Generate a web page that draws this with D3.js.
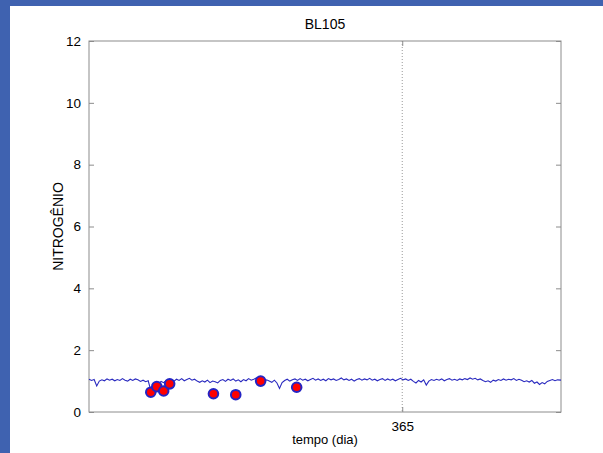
<!DOCTYPE html>
<html><head><meta charset="utf-8">
<script src="https://cdn.jsdelivr.net/npm/d3@7"></script>
<style>html,body{margin:0;padding:0;background:#3f62b0;}svg{display:block;}</style>
</head><body>
<script>
const title = "BL105";
const xLabel = "tempo (dia)";
const yLabel = "NITROGÊNIO";
const xDomain = [0, 550];
const yDomain = [0, 12];
const xTicks = [365];
const yTicks = [0, 2, 4, 6, 8, 10, 12];
const refDay = 365;

const lineDays = [0,3,6,9,12,15,18,21,24,27,30,33,36,39,42,45,48,51,54,57,60,63,66,69,72,75,78,81,84,87,90,93,96,99,102,105,108,111,114,117,120,123,126,129,132,135,138,141,144,147,150,153,156,159,162,165,168,171,174,177,180,183,186,189,192,195,198,201,204,207,210,213,216,219,222,225,228,231,234,237,240,243,246,249,252,255,258,261,264,267,270,273,276,279,282,285,288,291,294,297,300,303,306,309,312,315,318,321,324,327,330,333,336,339,342,345,348,351,354,357,360,363,366,369,372,375,378,381,384,387,390,393,396,399,402,405,408,411,414,417,420,423,426,429,432,435,438,441,444,447,450,453,456,459,462,465,468,471,474,477,480,483,486,489,492,495,498,501,504,507,510,513,516,519,522,525,528,531,534,537,540,543,546,550];
const lineValues = [
1.06,1.02,1.05,0.84,1.00,1.04,1.01,1.07,1.03,1.06,
1.01,1.05,1.02,1.08,1.03,1.00,1.06,1.02,1.07,1.04,
0.99,1.03,0.98,1.01,0.70,0.88,0.97,0.92,0.99,0.95,
1.02,0.97,1.04,1.00,1.06,1.02,1.08,1.01,1.05,1.09,
1.03,1.06,1.00,0.96,1.01,0.97,1.03,0.95,1.00,0.98,
0.94,1.02,1.05,0.99,1.06,1.02,1.07,1.00,1.04,0.98,
1.05,1.01,1.08,1.03,1.06,1.10,1.04,1.01,0.97,1.04,
1.00,0.96,1.03,0.94,0.76,0.95,1.02,1.06,1.00,1.04,
1.07,1.02,1.08,1.03,1.06,1.01,1.05,1.09,1.03,1.07,
1.02,1.06,1.01,1.08,1.04,1.07,1.02,1.05,1.10,1.04,
1.07,1.02,1.06,1.00,1.05,1.08,1.03,1.07,1.04,1.09,
1.03,1.06,1.01,1.05,1.08,1.02,1.07,1.03,1.06,1.01,
1.05,1.09,1.04,1.07,1.02,1.06,0.99,0.94,1.02,0.97,
1.04,0.87,1.00,1.05,1.02,1.06,1.03,1.07,1.01,1.05,
1.08,1.03,1.06,1.02,1.07,1.04,1.08,1.05,1.10,1.06,
1.09,1.04,1.07,1.02,0.98,1.01,0.96,1.03,1.00,1.05,
1.02,1.07,1.03,1.06,1.04,1.08,1.02,1.06,1.03,0.98,
1.01,0.97,1.02,0.93,0.97,0.89,0.95,0.91,0.99,1.02,
1.05,1.01,1.04,1.03];

const obsDays = [72, 79, 87, 94, 145, 171, 200, 242];
const obsValues = [0.64, 0.82, 0.68, 0.91, 0.59, 0.56, 1.00, 0.80];

const W = 603, H = 453;
const svg = d3.select("body").append("svg").attr("width", W).attr("height", H);
svg.append("rect").attr("x", 10).attr("y", 6).attr("width", W - 10).attr("height", H - 6).attr("fill", "#ffffff");

const m = {left: 89, right: 561, top: 41, bottom: 412};
const x = d3.scaleLinear().domain(xDomain).range([m.left, m.right]);
const y = d3.scaleLinear().domain(yDomain).range([m.bottom, m.top]);
const font = "'Liberation Sans', Arial, sans-serif";
const axisColor = "#8c8c8c";

svg.append("line").attr("x1", x(refDay)).attr("x2", x(refDay)).attr("y1", m.top).attr("y2", m.bottom)
  .attr("stroke", "#9a9a9a").attr("stroke-width", 1).attr("stroke-dasharray", "1,2");

function styleAxis(g, labels) {
  g.select(".domain").remove();
  g.selectAll(".tick line").attr("stroke", axisColor);
  g.selectAll(".tick text").attr("fill", labels ? "#000" : "none").style("font-family", font).style("font-size", "13.5px");
}
svg.append("g").attr("transform", `translate(${m.left},0)`)
  .call(d3.axisLeft(y).tickValues(yTicks).tickSizeInner(-5).tickSizeOuter(0).tickPadding(8).tickFormat(d3.format("d")))
  .call(g => styleAxis(g, true));
svg.append("g").attr("transform", `translate(${m.right},0)`)
  .call(d3.axisRight(y).tickValues(yTicks).tickSizeInner(-5).tickSizeOuter(0).tickFormat(""))
  .call(g => styleAxis(g, false));
svg.append("g").attr("transform", `translate(0,${m.bottom})`)
  .call(d3.axisBottom(x).tickValues(xTicks).tickSizeInner(-5).tickSizeOuter(0).tickPadding(9).tickFormat(d3.format("d")))
  .call(g => styleAxis(g, true));
svg.append("g").attr("transform", `translate(0,${m.top})`)
  .call(d3.axisTop(x).tickValues(xTicks).tickSizeInner(-5).tickSizeOuter(0).tickFormat(""))
  .call(g => styleAxis(g, false));

svg.append("rect").attr("x", m.left).attr("y", m.top).attr("width", m.right - m.left).attr("height", m.bottom - m.top)
  .attr("fill", "none").attr("stroke", axisColor).attr("stroke-width", 1);

const pts = lineDays.map((d, i) => [d, lineValues[i]]);
svg.append("path").datum(pts)
  .attr("d", d3.line().defined(d => d[1] != null).x(d => x(d[0])).y(d => y(d[1])))
  .attr("fill", "none").attr("stroke", "#2a2abf").attr("stroke-width", 1.1);

svg.selectAll("circle.obs").data(obsDays.map((d, i) => [d, obsValues[i]])).enter().append("circle")
  .attr("class", "obs").attr("cx", d => x(d[0])).attr("cy", d => y(d[1])).attr("r", 4.8)
  .attr("fill", "#ff0000").attr("stroke", "#2424c4").attr("stroke-width", 2);

svg.append("text").attr("x", (m.left + m.right) / 2).attr("y", 29).attr("text-anchor", "middle")
  .style("font-family", font).style("font-size", "14px").attr("fill", "#000").text(title);
svg.append("text").attr("x", (m.left + m.right) / 2).attr("y", 444).attr("text-anchor", "middle")
  .style("font-family", font).style("font-size", "13px").attr("fill", "#000").text(xLabel);
svg.append("text").attr("transform", `translate(63,${(m.top + m.bottom) / 2}) rotate(-90)`).attr("text-anchor", "middle")
  .style("font-family", font).style("font-size", "14px").attr("fill", "#000").text(yLabel);
</script>
</body></html>
